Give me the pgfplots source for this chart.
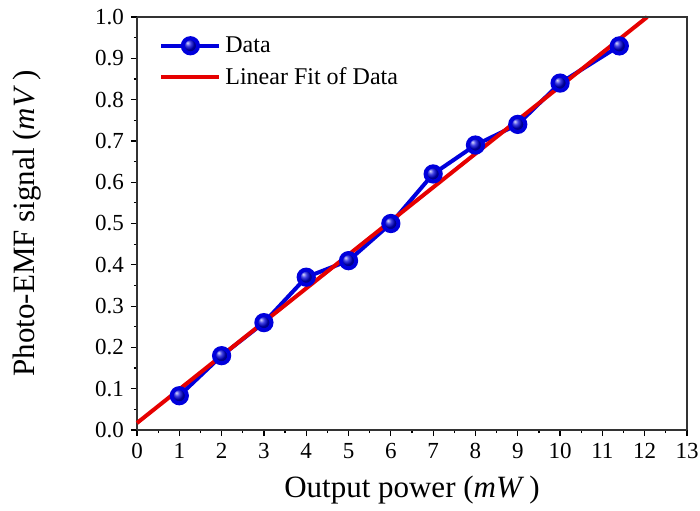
\documentclass[border=0pt]{standalone}
\usepackage{pgfplots}
\pgfplotsset{compat=1.18}
\usepackage{fontspec}
\setmainfont{Liberation Serif}
\definecolor{dblue}{RGB}{0,0,220}
\definecolor{dred}{RGB}{230,0,0}
\begin{document}
\begin{tikzpicture}
\path[use as bounding box] (-68.5pt,-40pt) rectangle (281.5pt,215pt);
\begin{axis}[
  at={(0,0)}, anchor=south west,
  width=275pt, height=206.5pt, scale only axis,
  xmin=0, xmax=13, ymin=0, ymax=1.0,
  xtick={0,1,...,13}, minor x tick num=1,
  ytick={0,0.1,...,1.0}, minor y tick num=1,
  axis x line*=bottom, axis y line*=left,
  tick align=outside,
  major tick length=3pt, minor tick length=1.6pt,
  every tick/.style={black, line width=0.6pt},
  axis line style={line width=0.7pt, black!80},
  /pgf/number format/assume math mode=true,
  yticklabel style={/pgf/number format/fixed, /pgf/number format/fixed zerofill, /pgf/number format/precision=1, font=\fontsize{11.5}{12}\selectfont},
  xticklabel style={font=\fontsize{11.5}{12}\selectfont},
  xlabel={Output power (\textit{mW}\,)},
  ylabel={Photo-EMF signal (\textit{mV}\,)},
  xlabel style={font=\fontsize{15.5}{16}\selectfont, at={(axis description cs:0.5,0)}, anchor=base, yshift=-33.5pt},
  ylabel style={font=\fontsize{15.5}{16}\selectfont, at={(axis description cs:-0.2255,0.5)}, anchor=north, inner sep=0pt},
  legend style={at={(rel axis cs:0,1)}, anchor=north west, xshift=8pt, yshift=-5.5pt, draw=none, fill=none,
    font=\fontsize{12}{13}\selectfont, row sep=2pt},
  legend cell align=left,
  legend image code/.code={\draw[#1] (0pt,0pt) -- (29pt,0pt); \draw[#1, only marks] plot coordinates {(14.5pt,0pt)};},
  clip=false,
]
\addplot[dblue, line width=2pt, mark=ball, mark size=3.8pt, mark options={ball color=dblue}]
  coordinates {(1,0.083) (2,0.18) (3,0.26) (4,0.37) (5,0.41) (6,0.50) (7,0.62) (8,0.69) (9,0.74) (10,0.84) (11.4,0.93)};
\addlegendentry{Data}
\addplot[dred, line width=2pt] coordinates {(0,0.017) (12.06,1.0)};
\addlegendentry{Linear Fit of Data}
\draw[black!80, line width=0.7pt] (rel axis cs:0,1) -- (rel axis cs:1,1) -- (rel axis cs:1,0);
\end{axis}
\end{tikzpicture}
\end{document}
